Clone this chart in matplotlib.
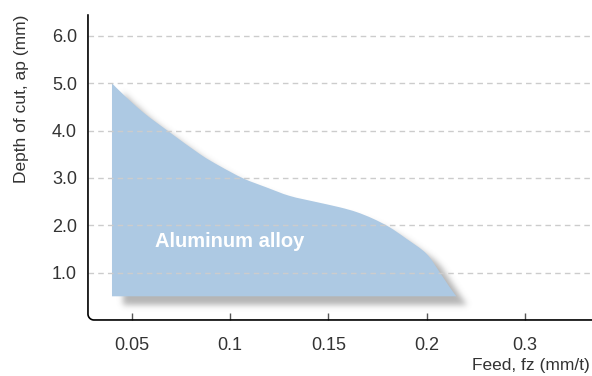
#!/usr/bin/env python3
import numpy as np
import matplotlib.pyplot as plt
from matplotlib.patches import PathPatch
from matplotlib.lines import Line2D
from matplotlib.path import Path
from matplotlib.transforms import Affine2D

plt.rc('font', family=['Liberation Sans', 'DejaVu Sans'])

# axis ticks (equally spaced on the chart even though 0.2 -> 0.3 jumps)
feed_ticks = [0.05, 0.1, 0.15, 0.2, 0.3]
feed_labels = ['0.05', '0.1', '0.15', '0.2', '0.3']
depth_ticks = [1.0, 2.0, 3.0, 4.0, 5.0, 6.0]

# upper boundary of the recommended area (feed mm/t, depth mm)
feed = [0.040, 0.0458, 0.056, 0.0685, 0.0848, 0.0948, 0.1067, 0.1185, 0.1303,
        0.1439, 0.1557, 0.1642, 0.1726, 0.181, 0.1895, 0.1998, 0.213, 0.223, 0.230]
depth = [5.0, 4.76, 4.38, 3.99, 3.50, 3.25, 2.99, 2.80, 2.62,
         2.49, 2.38, 2.28, 2.14, 1.96, 1.72, 1.40, 1.01, 0.70, 0.50]
depth_min = 0.5
region_label = 'Aluminum alloy'
label_feed, label_depth = 0.0618, 1.54


def to_pos(f):
    # piecewise linear mapping feed -> tick position
    return np.interp(f, [0.0] + feed_ticks + [0.4], [0, 1, 2, 3, 4, 5, 6])


def smooth_area(x, y, base):
    # catmull-rom curve through the boundary points, closed down to base
    p = np.column_stack([x, y])
    ext = np.vstack([p[0], p, p[-1]])
    verts = [p[0]]
    codes = [Path.MOVETO]
    for i in range(1, len(ext) - 2):
        c1 = ext[i] + (ext[i + 1] - ext[i - 1]) / 6
        c2 = ext[i + 1] - (ext[i + 2] - ext[i]) / 6
        verts += [c1, c2, ext[i + 1]]
        codes += [Path.CURVE4] * 3
    verts += [(x[-1], base), (x[0], base), p[0]]
    codes += [Path.LINETO, Path.LINETO, Path.CLOSEPOLY]
    return Path(np.array(verts), codes)


def gauss_blur(img, sigma):
    k = np.arange(-3 * int(sigma) - 1, 3 * int(sigma) + 2)
    g = np.exp(-0.5 * (k / sigma) ** 2)
    g /= g.sum()
    img = np.apply_along_axis(lambda v: np.convolve(v, g, mode='same'), 0, img)
    img = np.apply_along_axis(lambda v: np.convolve(v, g, mode='same'), 1, img)
    return img


FW, FH = 592, 376
fig = plt.figure(figsize=(FW / 100, FH / 100), dpi=100)
ax = fig.add_axes([0.1486, 0.149, 0.85, 0.811])
ax.set_xlim(0.556, 5.67)
ax.set_ylim(0, 6.44)
ax.patch.set_visible(False)
ax.set_zorder(1)

area = smooth_area(to_pos(np.array(feed)), np.array(depth), depth_min)

# soft drop shadow, rasterised in figure pixels
pix_path = (ax.transData + Affine2D().translate(11, -9)).transform_path(area)
yy, xx = np.mgrid[0:FH, 0:FW] + 0.5
mask = pix_path.contains_points(np.column_stack([xx.ravel(), yy.ravel()]))
mask = gauss_blur(mask.reshape(FH, FW).astype(float), 3.0)
shadow = np.zeros((FH, FW, 4))
shadow[..., :3] = 0.5
shadow[..., 3] = mask * 0.58
fig.figimage(shadow, xo=0, yo=0, origin='lower', zorder=0)

ax.add_patch(PathPatch(area, facecolor='#adc9e3', edgecolor='none', zorder=2))

for d in depth_ticks:
    ax.axhline(d, color='#cccccc', lw=1.0, ls=(0, (4, 3)), zorder=3)

ax.text(to_pos(label_feed), label_depth, region_label, color='white',
        fontsize=14.5, fontweight='bold', ha='left', va='baseline', zorder=4)

ax.set_xticks(to_pos(np.array(feed_ticks)))
ax.set_xticklabels(feed_labels)
ax.set_yticks(depth_ticks)
ax.set_yticklabels([f'{d:.1f}' for d in depth_ticks])
ax.tick_params(axis='x', direction='in', length=5, width=1, color='#555555',
               pad=12.3, labelsize=13, labelcolor='#333333')
ax.tick_params(axis='y', length=0, pad=8, labelsize=13, labelcolor='#333333')

for s in ax.spines.values():
    s.set_visible(False)

# left + bottom axis with a rounded corner
W = ax.get_position().width * fig.bbox.width
H = ax.get_position().height * fig.bbox.height
r = 6.0
t = np.linspace(np.pi, 1.5 * np.pi, 20)
arc_x = r / W + np.cos(t) * r / W
arc_y = r / H + np.sin(t) * r / H
line_x = np.concatenate([[0], arc_x, [1]])
line_y = np.concatenate([[1], arc_y, [0]])
ax.add_line(Line2D(line_x, line_y, transform=ax.transAxes, color='black',
                   lw=1.2, clip_on=False, zorder=5))

fig.text(0.997, 0.016, 'Feed, fz (mm/t)', ha='right', va='baseline',
         fontsize=12.5, color='#333333')
fig.text(0.037, 0.96, 'Depth of cut, ap (mm)', ha='center', va='top',
         rotation=90, fontsize=12.5, color='#333333')

fig.savefig('out.png', dpi=100)
